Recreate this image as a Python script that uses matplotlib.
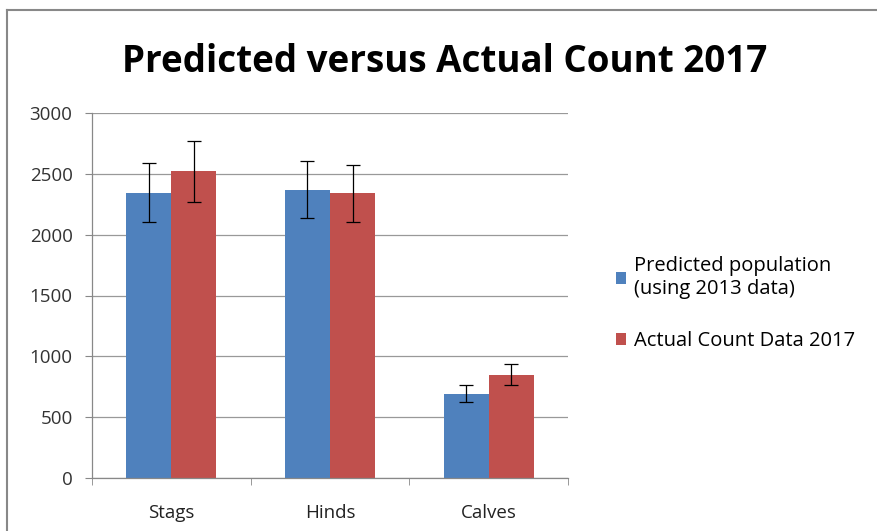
import matplotlib.pyplot as plt
import numpy as np

categories = ["Stags", "Hinds", "Calves"]
predicted = [2345, 2370, 692]
predicted_err = [240, 237, 70]
actual = [2520, 2340, 848]
actual_err = [253, 234, 86]
labels = ["Predicted population\n(using 2013 data)", "Actual Count Data 2017"]

plt.rcParams['font.family'] = ['Open Sans', 'DejaVu Sans']

fig = plt.figure(figsize=(8.77, 5.31), dpi=100)
ax = fig.add_axes([92/877, 1-478/531, (568-92)/877, (478-113)/531])

x = np.arange(len(categories))
w = 0.284
ax.bar(x - w/2, predicted, w, color='#4F81BD', label=labels[0], zorder=2)
ax.bar(x + w/2, actual, w, color='#C0504D', label=labels[1], zorder=2)
ax.errorbar(x - w/2, predicted, yerr=predicted_err, fmt='none', ecolor='black',
            elinewidth=0.9, capsize=5, capthick=0.9, zorder=3)
ax.errorbar(x + w/2, actual, yerr=actual_err, fmt='none', ecolor='black',
            elinewidth=0.9, capsize=5, capthick=0.9, zorder=3)

ax.set_xlim(-0.5, 2.5)
ax.set_ylim(0, 3000)
ax.set_yticks(range(0, 3001, 500))
ax.yaxis.grid(True, color='#999999', linewidth=0.9)
ax.set_axisbelow(True)
ax.set_xticks(x)
ax.set_xticklabels(categories)
ax.set_xticks([-0.5, 0.5, 1.5, 2.5], minor=True)
ax.tick_params(axis='x', which='major', length=0, pad=19, labelsize=13.5, colors='#222222')
ax.tick_params(axis='x', which='minor', length=5, color='#888888', direction='out')
ax.tick_params(axis='y', length=5, color='#888888', pad=9, labelsize=13.5, labelcolor='#333333')
for s in ['top', 'right']:
    ax.spines[s].set_visible(False)
for s in ['left', 'bottom']:
    ax.spines[s].set_color('#888888')
    ax.spines[s].set_linewidth(0.9)

fig.text(445/877, 1-62/531, "Predicted versus Actual Count 2017", ha='center', va='center',
         fontsize=26.5, fontweight='bold')

fig.legend(loc='upper left', bbox_to_anchor=(598/877, 1-238/531), frameon=False,
           fontsize=14.5, handlelength=0.5, handleheight=0.5, handletextpad=0.4,
           labelspacing=1.6)

# outer chart border
fig.add_artist(plt.Line2D([7/877, 7/877], [0, 1-10/531], color='#888888', linewidth=1.5))
fig.add_artist(plt.Line2D([7/877, 1], [1-10/531, 1-10/531], color='#888888', linewidth=1.5))

fig.savefig('out.png', dpi=100)
